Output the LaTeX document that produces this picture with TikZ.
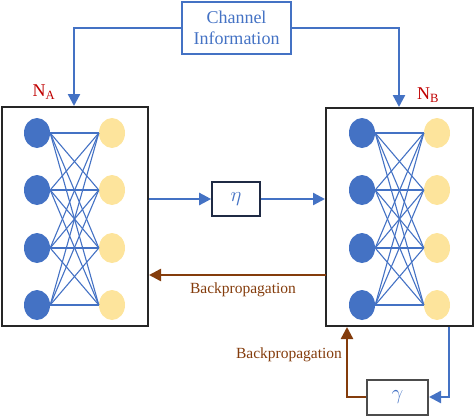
\documentclass[tikz,border=0pt]{standalone}
\usepackage{fontspec}
\setmainfont{Liberation Serif}
\usetikzlibrary{arrows.meta,shapes.geometric}
\definecolor{cblue}{HTML}{4472C4}
\definecolor{cyel}{HTML}{FDE49C}
\definecolor{cbrown}{HTML}{843C0C}
\definecolor{cred}{HTML}{C00000}
\definecolor{cnavy}{HTML}{1F2A44}
\begin{document}
\begin{tikzpicture}[x=1pt,y=-1pt,
  bn/.style={ellipse,fill=cblue,minimum width=26pt,minimum height=30pt,inner sep=0pt},
  yn/.style={ellipse,fill=cyel,minimum width=26pt,minimum height=30pt,inner sep=0pt},
  wire/.style={cblue,line width=1.1pt},
  netbox/.style={draw=black!85,line width=2pt,inner sep=0pt},
  flow/.style={cblue,line width=2.4pt,-{Triangle[length=12pt,width=12pt]}},
  back/.style={cbrown,line width=2.4pt,-{Triangle[length=12pt,width=12pt]}},
  lbl/.style={font=\fontsize{15.5}{18}\selectfont,text=cbrown}]
\useasboundingbox (0,0) rectangle (474,416);
% boxes
\node[netbox,minimum width=146pt,minimum height=219pt] (A) at (75,216.5) {};
\node[netbox,minimum width=147pt,minimum height=218pt] (B) at (399.5,217) {};
\node[draw=cblue,line width=1.6pt,minimum width=109pt,minimum height=52pt,align=center,text=cblue,font=\fontsize{18}{21}\selectfont,inner sep=0pt] (C) at (236.5,28) {Channel\\Information};
\node[draw=cnavy,line width=1.6pt,minimum width=48pt,minimum height=34pt,text=cblue,font=\fontsize{21}{24}\selectfont,inner sep=0pt] (eta) at (236,199) {$\eta$};
\node[draw=black!70,line width=2pt,minimum width=61pt,minimum height=35pt,text=cblue,font=\fontsize{21}{24}\selectfont,inner sep=0pt] (gam) at (397.5,397) {$\gamma$};
% labels
\node[text=cred,font=\fontsize{18}{20}\selectfont] (NA) at (44,92) {N\textsubscript{A}};
\node[text=cred,font=\fontsize{18}{20}\selectfont] (NB) at (428,95) {N\textsubscript{B}};
% networks
\foreach \i/\yy in {1/133,2/190,3/248,4/305}{
  \node[bn] (a\i) at (37,\yy) {};
  \node[yn] (ay\i) at (112,\yy) {};
  \node[bn] (b\i) at (362,\yy) {};
  \node[yn] (by\i) at (437,\yy) {};
}
\foreach \i in {1,...,4}{\foreach \j in {1,...,4}{
  \draw[wire] (a\i.east) -- (ay\j.west);
  \draw[wire] (b\i.east) -- (by\j.west);
}}
% channel arrows
\coordinate (cl) at (74,28);
\coordinate (cr) at (399,28);
\draw[flow] (C.west) -- (cl) -- (A.north -| cl);
\draw[flow] (C.east) -- (cr) -- (B.north -| cr);
% forward
\draw[flow] (A.east |- eta.west) -- (eta.west);
\draw[flow] (eta.east) -- (B.west |- eta.east);
% backprop
\coordinate (bp) at (326,275);
\draw[back] (bp) -- (A.east |- bp);
\node[lbl] (bpl) at (243,290) {Backpropagation};
% gamma loop
\coordinate (gr) at (449,326);
\draw[flow] (B.south -| gr) -- (gr |- gam.east) -- (gam.east);
\coordinate (gl) at (347,397);
\draw[back] (gam.west) -- (gl) -- (B.south -| gl);
\node[lbl] (bpl2) at (289,355) {Backpropagation};
\end{tikzpicture}
\end{document}
